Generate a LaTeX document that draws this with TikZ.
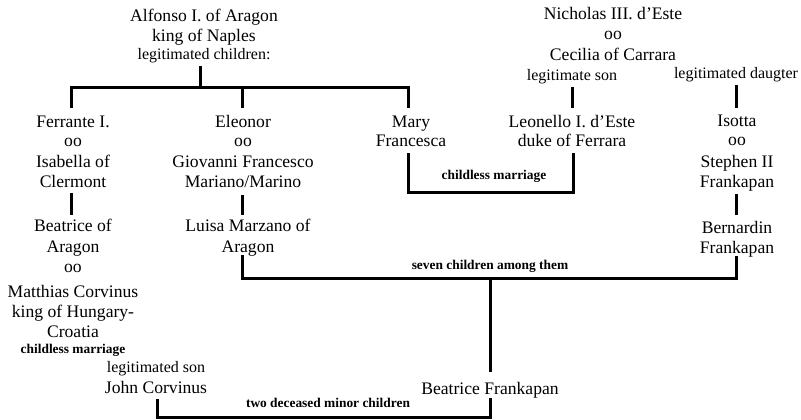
\documentclass[tikz,border=0pt]{standalone}
\usepackage{fontspec}
\setmainfont{Liberation Serif}
\newcommand\mainf{\fontsize{17.6pt}{20pt}\selectfont}
\newcommand\smallf{\fontsize{16pt}{20pt}\selectfont}
\newcommand\notef{\fontsize{13.4pt}{16pt}\selectfont\bfseries}
\newcommand\blk[1]{\begin{tabular}[t]{@{}c@{}}#1\end{tabular}}
\tikzset{
  person/.style={font=\mainf, inner sep=0pt, outer sep=0pt, anchor=base},
  tag/.style={font=\smallf, inner sep=0pt, outer sep=0pt, anchor=base},
  note/.style={font=\notef, inner sep=0pt, outer sep=0pt, anchor=base},
  link/.style={line width=3pt, line join=miter, draw=black}
}
\begin{document}
\begin{tikzpicture}[x=1pt,y=-1pt]
\fill[white] (0,0) rectangle (801,420);
\useasboundingbox (0,0) rectangle (801,420);

% generation 1
\node[person] (alfonso) at (204,22) {\blk{Alfonso I. of Aragon\\ king of Naples\\[-2pt] {\smallf legitimated children:}}};
\node[person] (nicholas) at (613,20) {\blk{Nicholas III. d’Este\\ oo\\[1pt] Cecilia of Carrara}};
\node[tag] (lson) at (572,81) {\blk{legitimate son}};
\node[tag] (ldau) at (736,79) {\blk{legitimated daugter}};

% generation 2
\node[person] (ferrante) at (73,127) {\blk{Ferrante I.\\ oo\\ Isabella of\\ Clermont}};
\node[person] (eleonor) at (243,127) {\blk{Eleonor\\ oo\\ Giovanni Francesco\\ Mariano/Marino}};
\node[person] (mary) at (411,127) {\blk{Mary\\ Francesca}};
\node[person] (leonello) at (572,127) {\blk{Leonello I. d’Este\\ duke of Ferrara}};
\node[person] (isotta) at (737,126) {\blk{Isotta\\ oo\\[1pt] Stephen II\\ Frankapan}};
\node[note] (cm1) at (494,179) {childless marriage};

% generation 3
\node[person] (beatrice) at (73,231) {\blk{Beatrice of\\[1pt] Aragon\\ oo\\[5pt] Matthias Corvinus\\ king of Hungary-\\ Croatia}};
\node[note] (cm2) at (73,353) {childless marriage};
\node[person] (luisa) at (248,231) {\blk{Luisa Marzano of\\[1pt] Aragon}};
\node[person] (bernardin) at (737,233) {\blk{Bernardin\\ Frankapan}};
\node[note] (seven) at (490,269) {seven children among them};

% generation 4
\node[tag] (lson2) at (156,372) {\blk{legitimated son}};
\node[person] (john) at (156,393) {\blk{John Corvinus}};
\node[person] (beatricef) at (490,394) {\blk{Beatrice Frankapan}};
\node[note] (two) at (328,407) {two deceased minor children};

% connectors
\coordinate (j1) at (200,88);
\draw[link] ([xshift=-4pt]alfonso.south) -- (j1);
\draw[link] ([xshift=-2pt,yshift=5pt]ferrante.north) |- (j1) -| ([xshift=-3pt,yshift=5pt]mary.north);
\draw[link] ([xshift=-1pt,yshift=5pt]eleonor.north) -- ([xshift=-1pt]eleonor.north |- j1);
\draw[link] (lson.south) -- ([yshift=5pt]leonello.north);
\draw[link] (ldau.south) -- ([xshift=-1pt,yshift=4pt]isotta.north);

\coordinate (c1) at (490,192);
\draw[link] ([xshift=-3pt]mary.south) |- (c1) -| ([xshift=1pt]leonello.south);

\draw[link] ([xshift=-2pt]ferrante.south) -- ([xshift=-2pt,yshift=2pt]beatrice.north);
\draw[link] ([xshift=-1pt,yshift=-2pt]eleonor.south) -- ([xshift=-6pt,yshift=2pt]luisa.north);
\draw[link] ([xshift=-1pt,yshift=-1pt]isotta.south) -- ([xshift=-1pt,yshift=4pt]bernardin.north);

\coordinate (j2) at (490,278);
\draw[link] ([xshift=-6pt,yshift=3pt]luisa.south) |- (j2) -| ([xshift=-1pt,yshift=3pt]bernardin.south);
\draw[link] (j2) -- ([yshift=8pt]beatricef.north);

\coordinate (j3) at (322,417);
\draw[link] ([yshift=2pt]beatricef.south) |- (j3) -| ([xshift=1pt]john.south);
\end{tikzpicture}
\end{document}
